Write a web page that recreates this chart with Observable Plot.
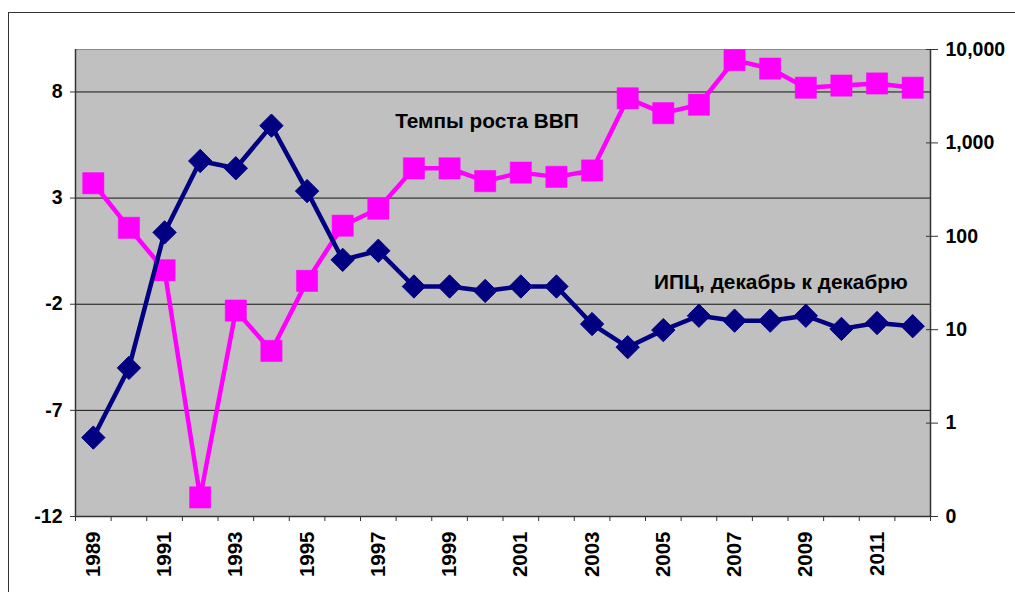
<!DOCTYPE html>
<html>
<head>
<meta charset="utf-8">
<script src="https://cdn.jsdelivr.net/npm/d3@7"></script>
<script src="https://cdn.jsdelivr.net/npm/@observablehq/plot@0.6"></script>
<style>
  html, body { margin: 0; padding: 0; background: #fff; }
  body { width: 1015px; height: 592px; overflow: hidden; position: relative; font-family: "Liberation Sans", Arial, sans-serif; }
  #frame { position: absolute; left: 8px; top: 12px; width: 1030px; height: 640px; border: 1.5px solid #333; box-sizing: border-box; }
  #chart { position: absolute; left: 0; top: 0; }
</style>
</head>
<body>
<div id="frame"></div>
<div id="chart"></div>
<script>
// ---- data ----
const years = [1989, 1990, 1991, 1992, 1993, 1994, 1995, 1996, 1997, 1998, 1999, 2000,
               2001, 2002, 2003, 2004, 2005, 2006, 2007, 2008, 2009, 2010, 2011, 2012];
// GDP growth rate, % (left axis)
const gdpGrowth = [3.7, 1.6, -0.4, -11.1, -2.3, -4.2, -0.9, 1.7, 2.5, 4.4, 4.4, 3.8,
                   4.2, 4.0, 4.3, 7.7, 7.0, 7.4, 9.5, 9.1, 8.2, 8.3, 8.4, 8.2];
// CPI, December to December, % (right log axis)
const cpiDec = [0.7, 3.9, 110, 640, 535, 1530, 305, 56, 70, 29, 29, 26,
                29, 29, 11.5, 6.5, 9.9, 14.1, 12.5, 12.5, 14.1, 10.2, 11.8, 10.9];
const leftTicks = [-12, -7, -2, 3, 8];
const leftDomain = [-12, 10];
const rightTicks = [0.1, 1, 10, 100, 1000, 10000];
const rightTickLabels = ["0", "1", "10", "100", "1,000", "10,000"];
const xLabelYears = [1989, 1991, 1993, 1995, 1997, 1999, 2001, 2003, 2005, 2007, 2009, 2011];
const annotations = [
  { text: "Темпы роста ВВП", year: 2000.05, value: 6.6 },
  { text: "ИПЦ, декабрь к декабрю", year: 2008.3, value: -0.95 }
];

// ---- secondary (log) axis mapped onto the primary y scale ----
const logMin = Math.log10(rightTicks[0]);
const logMax = Math.log10(rightTicks[rightTicks.length - 1]);
const toLeft = v => leftDomain[0] + (Math.log10(v) - logMin) / (logMax - logMin) * (leftDomain[1] - leftDomain[0]);

const gdpData = years.map((year, i) => ({ year, value: gdpGrowth[i] }));
const cpiData = years.map((year, i) => ({ year, value: toLeft(cpiDec[i]) }));
const xDomain = [years[0] - 0.5, years[years.length - 1] + 0.5];
const xTickMarks = years.map(y => y - 0.5).concat([years[years.length - 1] + 0.5]);

const font = 19.5;
const chart = Plot.plot({
  width: 1015,
  height: 592,
  marginLeft: 75,
  marginRight: 85,
  marginTop: 49,
  marginBottom: 76,
  style: { fontFamily: "'Liberation Sans', Arial, sans-serif", fontWeight: "bold", fontSize: font + "px", color: "#000", background: "none", overflow: "visible" },
  x: { domain: xDomain, axis: null },
  y: { domain: leftDomain, axis: null },
  marks: [
    Plot.frame({ fill: "#C0C0C0", stroke: "#8a8a8a" }),
    Plot.gridY(leftTicks.filter(t => t > leftDomain[0]), { stroke: "#000", strokeOpacity: 0.9, strokeWidth: 1 }),
    Plot.ruleY([leftDomain[0]], { stroke: "#333", strokeWidth: 1.5 }),
    Plot.ruleX(xDomain, { stroke: "#333", strokeWidth: 1.5 }),
    // left axis
    Plot.axisY(leftTicks, { anchor: "left", label: null, tickSize: 5, tickPadding: 8, tickFormat: d => String(d), fontSize: font, fontWeight: "bold", stroke: "#333" }),
    // right (log) axis, ticks crossing the axis line
    Plot.axisY(rightTicks.map(toLeft), { anchor: "right", label: null, tickSize: 12, dx: -5, tickPadding: 8, tickFormat: (d, i) => rightTickLabels[i], fontSize: font, fontWeight: "bold", stroke: "#333" }),
    // bottom tick marks between categories
    Plot.axisX(xTickMarks, { anchor: "bottom", label: null, tickSize: 5, tickFormat: () => "", stroke: "#333" }),
    // year labels
    Plot.axisX(xLabelYears, { anchor: "bottom", label: null, tickSize: 0, tickPadding: 15, tickRotate: -90, tickFormat: d => String(d), fontSize: 20.5, fontWeight: "bold" }),
    // GDP growth (pink)
    Plot.line(gdpData, { x: "year", y: "value", stroke: "#FF00FF", strokeWidth: 4.5 }),
    Plot.dot(gdpData, { x: "year", y: "value", symbol: "square", r: 12, fill: "#FF00FF", stroke: "#FF00FF", strokeWidth: 0.5 }),
    // CPI (navy)
    Plot.line(cpiData, { x: "year", y: "value", stroke: "#000080", strokeWidth: 4.5 }),
    Plot.dot(cpiData, { x: "year", y: "value", symbol: "diamond2", r: 10.5, fill: "#000080", stroke: "#000080", strokeWidth: 1, strokeLinejoin: "round" }),
    // series labels
    Plot.text(annotations, { x: "year", y: "value", text: "text", fontSize: 20.8, fontWeight: "bold", fill: "#000" })
  ]
});
document.getElementById("chart").appendChild(chart);
</script>
</body>
</html>
